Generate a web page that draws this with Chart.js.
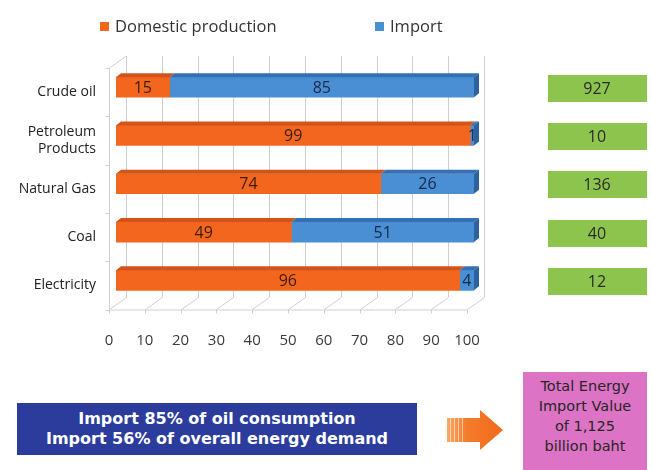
<!DOCTYPE html>
<html>
<head>
<meta charset="utf-8">
<script src="https://cdn.jsdelivr.net/npm/chart.js@4.4.0/dist/chart.umd.min.js"></script>
<style>
  body {margin: 0; background: #fff;}
  #Wrap {position: relative; width: 652px; height: 470px; overflow: hidden; font-family: 'Open Sans', sans-serif;}
  #chart1 {position: absolute; left: 0; top: 0;}
  .Leg {position: absolute; top: 15px; font-size: 16.5px; line-height: 22px; color: #333; white-space: nowrap;}
  .Leg i {display: inline-block; width: 9px; height: 9px; margin-right: 6px; vertical-align: 1px;}
  #Note {position: absolute; left: 17px; top: 403px; width: 400px; height: 52px; background: #2B3C9C; color: #fff;
         font: bold 16px 'DejaVu Sans', sans-serif; text-align: center; line-height: 20px; padding-top: 6px; box-sizing: border-box;}
  #Total {position: absolute; left: 523px; top: 372px; width: 124px; height: 98px; background: #DD73C4; color: #262626;
          font: 14.5px 'DejaVu Sans', sans-serif; text-align: center; line-height: 20px; padding-top: 4px; box-sizing: border-box;}
  #Arrow {position: absolute; left: 447px; top: 408px;}
</style>
</head>
<body>
<div id="Wrap">
  <canvas id="chart1" width="652" height="470"></canvas>
  <div id="Note">Import 85% of oil consumption<br>Import 56% of overall energy demand</div>
  <svg id="Arrow" width="60" height="46">
    <defs>
      <linearGradient id="ArrowFill" x1="0" x2="1" y1="0" y2="0">
        <stop offset="0" stop-color="#F8A868"/>
        <stop offset="0.35" stop-color="#F47C2A"/>
        <stop offset="1" stop-color="#F2691C"/>
      </linearGradient>
    </defs>
    <path d="M0 10 H33 V2 L56 22 L33 42 V34 H0 Z" fill="url(#ArrowFill)"/>
    <g stroke="#fff" stroke-opacity="0.55" stroke-width="1">
      <line x1="3.5" y1="10" x2="3.5" y2="34"/>
      <line x1="7.5" y1="10" x2="7.5" y2="34"/>
      <line x1="11.5" y1="10" x2="11.5" y2="34"/>
      <line x1="15.5" y1="10" x2="15.5" y2="34"/>
    </g>
  </svg>
  <div id="Total">Total Energy<br>Import Value<br>of 1,125<br>billion baht</div>
</div>
<script>
// Energy sources and shares, %
const Categories = ['Crude oil', ['Petroleum', 'Products'], 'Natural Gas', 'Coal', 'Electricity'];
const Domestic = [15, 99, 74, 49, 96];
const Imports = [85, 1, 26, 51, 4];
const ImportValue = [927, 10, 136, 40, 12];		// import value, billion baht
const XTicks = [0, 10, 20, 30, 40, 50, 60, 70, 80, 90, 100];

const ColorDom = '#F3661E', ColorDomTop = '#D2541A';
const ColorImp = '#4A8ED3', ColorImpTop = '#3470B2', ColorImpCap = '#2C62A0';
const GridColor = '#cfcfcf';
const FX = -7, FY = 5;		// front edge of the box, relative to bar face
const BX = 10, BY = -7;		// back wall, relative to bar face
const DX = 5, DY = -4;		// bar depth

Chart.defaults.font.family = "'Open Sans', sans-serif";

// 3D box: back wall grid, floor, left wall
const Frame = {
  id: 'frame',
  beforeDatasetsDraw(chart) {
    const ctx = chart.ctx, a = chart.chartArea, x = chart.scales.x;
    ctx.save();
    ctx.strokeStyle = GridColor;
    ctx.lineWidth = 1;
    const line = (x1, y1, x2, y2) => { ctx.beginPath(); ctx.moveTo(x1, y1); ctx.lineTo(x2, y2); ctx.stroke(); };
    x.ticks.forEach(t => {
      const px = Math.round(x.getPixelForValue(t.value)) + 0.5;
      line(px + BX, a.top + BY, px + BX, a.bottom + BY);			//back wall
      line(px + FX, a.bottom + FY, px + BX, a.bottom + BY);		//floor
      line(px + FX, a.bottom + FY, px + FX, a.bottom + FY + 4);	//tick
    });
    const l = Math.round(a.left) + 0.5;
    line(l + FX, a.bottom + FY + 0.5, Math.round(a.right) + FX, a.bottom + FY + 0.5);
    line(l + FX, a.top + FY, l + FX, a.bottom + FY);
    line(l + FX, a.top + FY, l + BX, a.top + BY);
    const band = (a.bottom - a.top) / Categories.length;
    for (let i = 0; i <= Categories.length; i++) {
      const py = Math.round(a.top + i * band + FY) + 0.5;
      line(l + FX - 4, py, l + FX, py);
    }
    ctx.restore();
  }
};

// bar tops, end caps, values and the value boxes on the right
const Bars3D = {
  id: 'bars3d',
  afterDatasetsDraw(chart) {
    const ctx = chart.ctx, y = chart.scales.y;
    const tops = [ColorDomTop, ColorImpTop];
    ctx.save();
    chart.data.datasets.forEach((ds, d) => {
      chart.getDatasetMeta(d).data.forEach(el => {
        const p = el.getProps(['x', 'y', 'base', 'height'], true);
        const x1 = Math.min(p.x, p.base), x2 = Math.max(p.x, p.base), t = p.y - p.height / 2;
        ctx.fillStyle = tops[d];
        ctx.beginPath();
        ctx.moveTo(x1, t); ctx.lineTo(x1 + DX, t + DY); ctx.lineTo(x2 + DX, t + DY); ctx.lineTo(x2, t);
        ctx.closePath(); ctx.fill();
        if (d === chart.data.datasets.length - 1) {
          ctx.fillStyle = ColorImpCap;
          ctx.beginPath();
          ctx.moveTo(x2, t); ctx.lineTo(x2 + DX, t + DY); ctx.lineTo(x2 + DX, t + p.height + DY); ctx.lineTo(x2, t + p.height);
          ctx.closePath(); ctx.fill();
        }
      });
    });
    ctx.font = "16px 'Open Sans', sans-serif";
    ctx.textAlign = 'center';
    ctx.textBaseline = 'middle';
    chart.data.datasets.forEach((ds, d) => {
      ctx.fillStyle = d === 0 ? '#3a1c0c' : '#17294a';
      chart.getDatasetMeta(d).data.forEach((el, i) => {
        const p = el.getProps(['x', 'y', 'base'], true);
        ctx.fillText(ds.data[i], (p.x + p.base) / 2, p.y + 1);
      });
    });
    ImportValue.forEach((v, i) => {
      const cy = y.getPixelForValue(i) + 1;
      ctx.fillStyle = '#8DC44E';
      ctx.fillRect(548, Math.round(cy - 13.5), 99, 27);
      ctx.fillStyle = '#2a2a2a';
      ctx.fillText(v, 597, cy + 1);
    });
    ctx.restore();
  }
};

var Chart1 = new Chart('chart1', {
  type: 'bar',
  data: {
    labels: Categories,
    datasets: [
      {label: 'Domestic production', data: Domestic, backgroundColor: ColorDom, barThickness: 20},
      {label: 'Import', data: Imports, backgroundColor: ColorImp, barThickness: 20}
    ]
  },
  options: {
    indexAxis: 'y',
    responsive: false,
    animation: false,
    devicePixelRatio: 1,
    layout: {padding: {top: 63, right: 178, left: 0, bottom: 0}},
    plugins: {legend: {display: false}, tooltip: {enabled: false}},
    scales: {
      x: {
        stacked: true,
        min: 0,
        max: 100,
        afterBuildTicks: s => { s.ticks = XTicks.map(v => ({value: v})); },
        afterFit: s => { s.height = 165.5; },
        grid: {display: false},
        border: {display: false},
        ticks: {color: '#3a3a3a', font: {size: 15}, padding: 19, labelOffset: -7, maxRotation: 0, autoSkip: false}
      },
      y: {
        stacked: true,
        afterFit: s => { s.width = 116; },
        grid: {display: false},
        border: {display: false},
        ticks: {color: '#222', font: {size: 14}, padding: 12, labelOffset: 5}
      }
    }
  },
  plugins: [Frame, Bars3D]
});

// legend built from the datasets
const LegendLeft = [100, 375];
Chart1.data.datasets.forEach((ds, i) => {
  const Item = document.createElement('div');
  Item.className = 'Leg';
  Item.style.left = LegendLeft[i] + 'px';
  Item.innerHTML = '<i style="background:' + ds.backgroundColor + '"></i>' + ds.label;
  document.getElementById('Wrap').appendChild(Item);
});
</script>
</body>
</html>
